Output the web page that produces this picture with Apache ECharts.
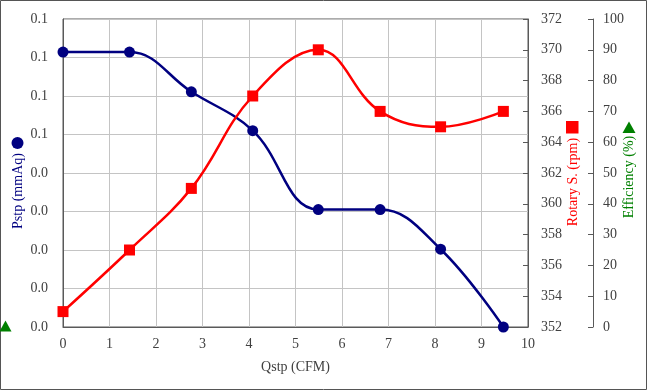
<!DOCTYPE html>
<html>
<head>
<meta charset="utf-8">
<script src="https://cdn.jsdelivr.net/npm/echarts@6/dist/echarts.min.js"></script>
<style>html,body{margin:0;padding:0;background:#fff;}#c{width:647px;height:390px;}</style>
</head>
<body>
<div id="c"></div>
<script>
// ---- data ----
var qstp = [0, 1.43, 2.76, 4.08, 5.49, 6.82, 8.12, 9.47];
var pstp = [0.0714, 0.0714, 0.0611, 0.0510, 0.0305, 0.0305, 0.0202, 0.0];
var rotary = [353, 357, 361, 367, 370, 366, 365, 366];
var leftTickLabels = ['0.0', '0.0', '0.0', '0.0', '0.0', '0.1', '0.1', '0.1', '0.1'];
var xTitle = 'Qstp (CFM)';
var leftTitle = 'Pstp (mmAq)';
var rotaryTitle = 'Rotary S. (rpm)';
var effTitle = 'Efficiency (%)';

var FONT = 'Liberation Serif';
var TXT = '#404040';
var AX = '#595959';
var GRID = '#c4c4c4';

function pairs(xs, ys) { return xs.map(function (x, i) { return [x, ys[i]]; }); }

var chart = echarts.init(document.getElementById('c'), null, { renderer: 'canvas' });
chart.setOption({
  animation: false,
  backgroundColor: '#fff',
  textStyle: { fontFamily: FONT },
  grid: { left: 63, right: 119, top: 19, bottom: 63, show: true, borderColor: AX, borderWidth: 1 },
  xAxis: {
    type: 'value', min: 0, max: 10, interval: 1,
    name: xTitle, nameLocation: 'middle', nameGap: 33,
    nameTextStyle: { color: TXT, fontSize: 14, fontFamily: FONT },
    axisLine: { show: true, lineStyle: { color: AX, width: 1 } },
    axisTick: { show: false },
    axisLabel: { color: TXT, fontSize: 14, fontFamily: FONT, margin: 10 },
    splitLine: { show: true, lineStyle: { color: GRID, width: 1 } }
  },
  yAxis: [
    {
      type: 'value', min: 0, max: 0.08, interval: 0.01, position: 'left',
      axisLine: { show: true, lineStyle: { color: AX, width: 1 } },
      axisTick: { show: false },
      axisLabel: {
        color: TXT, fontSize: 14, fontFamily: FONT, margin: 15,
        formatter: function (v) { return leftTickLabels[Math.round(v / 0.01)]; }
      },
      splitLine: { show: true, lineStyle: { color: GRID, width: 1 } }
    },
    {
      type: 'value', min: 352, max: 372, interval: 2, position: 'right',
      axisLine: { show: true, lineStyle: { color: AX, width: 1 } },
      axisTick: { show: true, inside: true, length: 5, lineStyle: { color: AX } },
      axisLabel: { color: TXT, fontSize: 14, fontFamily: FONT, margin: 13 },
      splitLine: { show: false }
    },
    {
      type: 'value', min: 0, max: 100, interval: 10, position: 'right', offset: 65,
      axisLine: { show: true, onZero: false, lineStyle: { color: AX, width: 1 } },
      axisTick: { show: true, inside: true, length: 5, lineStyle: { color: AX } },
      axisLabel: { color: TXT, fontSize: 14, fontFamily: FONT, margin: 10 },
      splitLine: { show: false }
    }
  ],
  series: [
    {
      name: leftTitle, type: 'line', yAxisIndex: 0, smooth: 0.4,
      data: pairs(qstp, pstp),
      symbol: 'circle', symbolSize: 11,
      lineStyle: { color: '#000080', width: 2.5 },
      itemStyle: { color: '#000080' }
    },
    {
      name: rotaryTitle, type: 'line', yAxisIndex: 1, smooth: 0.4,
      data: pairs(qstp, rotary),
      symbol: 'rect', symbolSize: 11,
      lineStyle: { color: '#ff0000', width: 2.5 },
      itemStyle: { color: '#ff0000' }
    }
  ],
  graphic: [
    { type: 'rect', shape: { x: 0.5, y: 0.5, width: 646, height: 389 }, style: { fill: null, stroke: '#555', lineWidth: 1 }, silent: true },
    { type: 'circle', shape: { cx: 17.5, cy: 143, r: 6 }, style: { fill: '#000080' } },
    { type: 'text', x: 18, y: 191, rotation: Math.PI / 2, style: { text: leftTitle, fill: '#000080', font: '14px "Liberation Serif"', align: 'center', verticalAlign: 'middle' } },
    { type: 'rect', shape: { x: 566, y: 121, width: 12.5, height: 12.5 }, style: { fill: '#ff0000' } },
    { type: 'text', x: 573, y: 182, rotation: Math.PI / 2, style: { text: rotaryTitle, fill: '#ff0000', font: '14px "Liberation Serif"', align: 'center', verticalAlign: 'middle' } },
    { type: 'polygon', shape: { points: [[629, 121.5], [635.5, 133], [622.5, 133]] }, style: { fill: '#008000' } },
    { type: 'text', x: 629, y: 177, rotation: Math.PI / 2, style: { text: effTitle, fill: '#008000', font: '14px "Liberation Serif"', align: 'center', verticalAlign: 'middle' } },
    { type: 'polygon', shape: { points: [[5.5, 320.5], [11.5, 331.5], [-0.5, 331.5]] }, style: { fill: '#008000' } }
  ]
});
</script>
</body>
</html>
